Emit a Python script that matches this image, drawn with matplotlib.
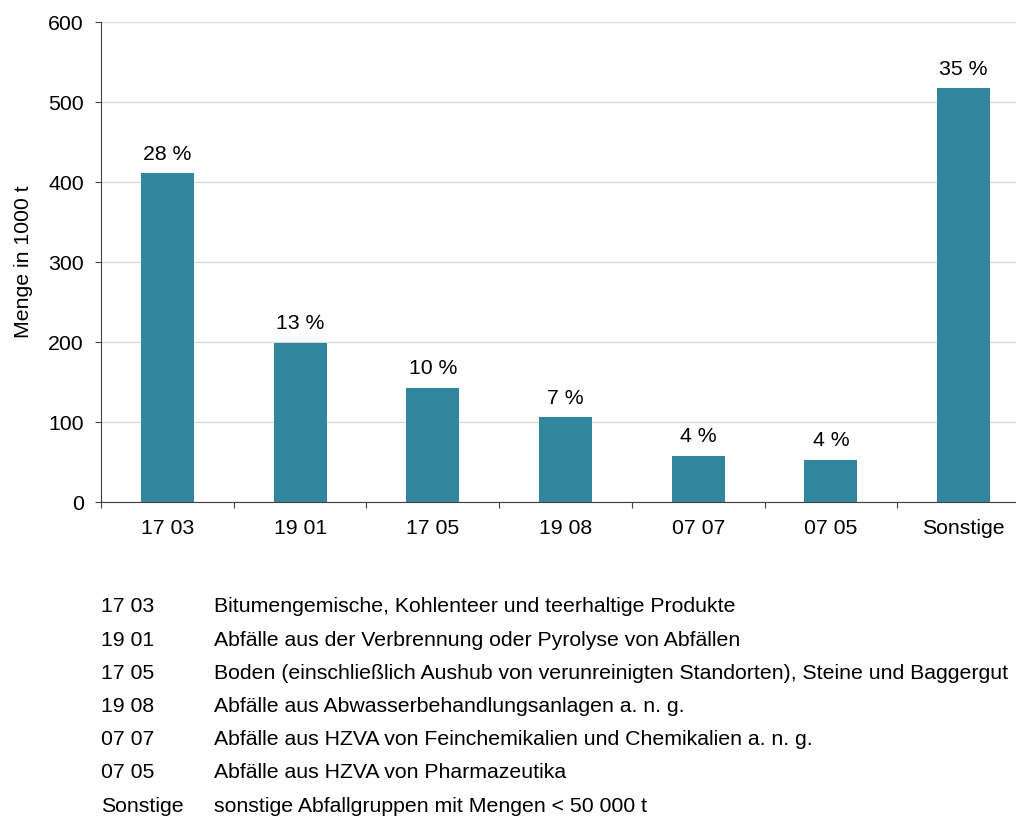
import matplotlib.pyplot as plt

plt.rcParams['font.family'] = ['Liberation Sans', 'DejaVu Sans']

# Abfallgruppen und Mengen (1000 t)
categories = ["17 03", "19 01", "17 05", "19 08", "07 07", "07 05", "Sonstige"]
values = [411, 199, 143, 106, 58, 53, 517]
shares = ["28 %", "13 %", "10 %", "7 %", "4 %", "4 %", "35 %"]
descriptions = [
    "Bitumengemische, Kohlenteer und teerhaltige Produkte",
    "Abfälle aus der Verbrennung oder Pyrolyse von Abfällen",
    "Boden (einschließlich Aushub von verunreinigten Standorten), Steine und Baggergut",
    "Abfälle aus Abwasserbehandlungsanlagen a. n. g.",
    "Abfälle aus HZVA von Feinchemikalien und Chemikalien a. n. g.",
    "Abfälle aus HZVA von Pharmazeutika",
    "sonstige Abfallgruppen mit Mengen < 50 000 t",
]

FS = 15.3
W, H = 1016, 816
fig = plt.figure(figsize=(W / 100, H / 100), dpi=100)
# axes extends past the right figure edge like the original
ax = fig.add_axes([101 / W, 1 - 502 / H, (1030 - 101) / W, 480 / H])

x = range(len(categories))
bars = ax.bar(x, values, width=0.4, color="#31859c", zorder=3)
for b, s in zip(bars, shares):
    ax.text(b.get_x() + b.get_width() / 2, b.get_height() + 17, s,
            ha="center", va="baseline", fontsize=FS)

ax.set_xlim(-0.5, len(categories) - 0.5)
ax.set_ylim(0, 600)
ax.set_yticks(range(0, 601, 100))
ax.yaxis.grid(True, color="#d9d9d9", linewidth=1, zorder=0)
ax.set_xticks([i + 0.5 for i in range(len(categories) - 1)] + [-0.5])
ax.set_xticklabels([])
ax.set_xticks(list(x), minor=True)
ax.set_xticklabels(categories, minor=True, fontsize=FS)
ax.tick_params(axis="x", which="minor", length=0, pad=12)
ax.tick_params(axis="x", which="major", length=4.5, direction="out", color="#404040")
ax.tick_params(axis="y", length=4.5, color="#404040", labelsize=FS, pad=8)
for side in ["top", "right"]:
    ax.spines[side].set_visible(False)
for side in ["left", "bottom"]:
    ax.spines[side].set_color("#404040")
ax.set_ylabel("Menge in 1000 t", fontsize=FS)
ax.yaxis.label.set_verticalalignment("center")
ax.yaxis.set_label_coords(-0.083, 0.5)

# Legende unter dem Diagramm
for i, (c, d) in enumerate(zip(categories, descriptions)):
    y = 1 - (607 + i * 33.2) / H
    fig.text(101 / W, y, c, fontsize=FS, va="center")
    fig.text(214 / W, y, d, fontsize=FS, va="center")

fig.savefig("out.png", dpi=100)
